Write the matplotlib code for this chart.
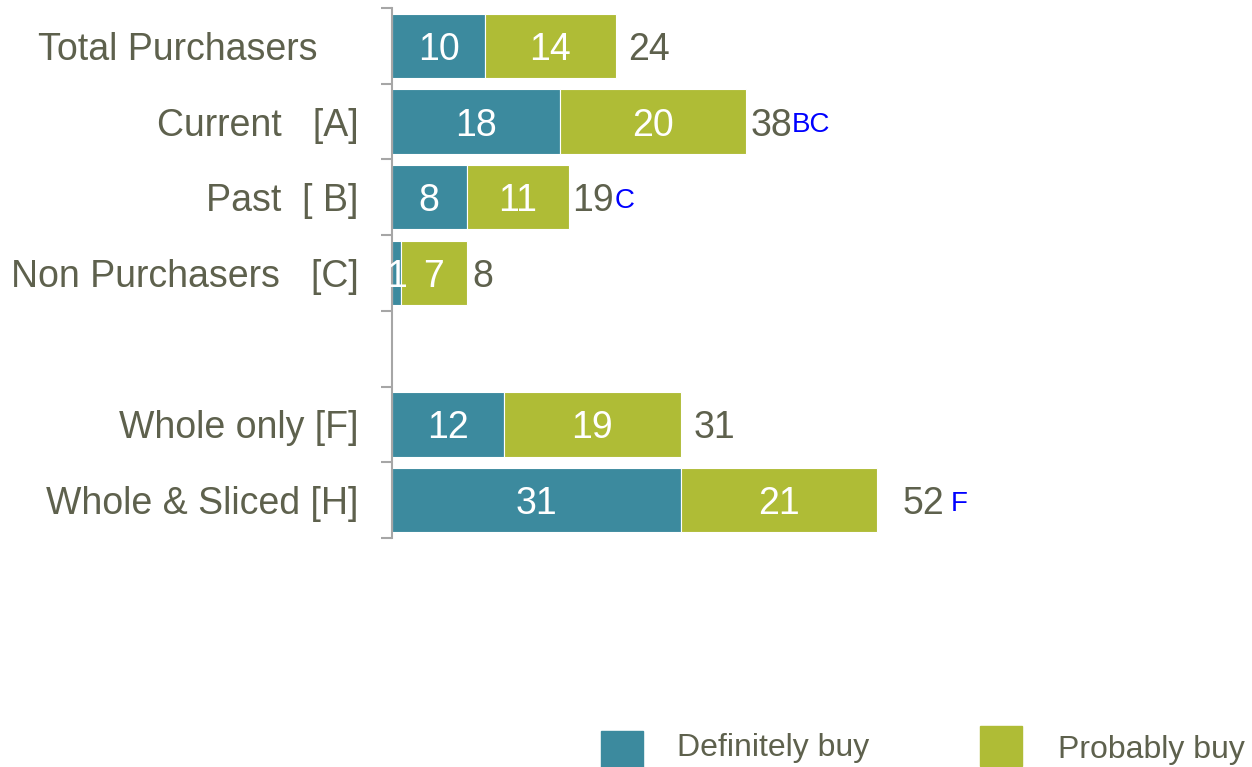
import matplotlib.pyplot as plt
from matplotlib.patches import Rectangle

plt.rcParams['font.family'] = ['Liberation Sans', 'DejaVu Sans']

# data
labels = ['Total Purchasers    ', 'Current   [A]', 'Past  [ B]', 'Non Purchasers   [C]',
          'Whole only [F]', 'Whole & Sliced [H]']
definitely = [10, 18, 8, 1, 12, 31]
probably = [14, 20, 11, 7, 19, 21]
totals = [24, 38, 19, 8, 31, 52]
sig = ['', 'BC', 'C', '', '', 'F']

# row positions (empty slot between the two groups)
pos = [0, 1, 2, 3, 5, 6]
total_pad = [9, 3, 2, 4, 9, 19]   # points, as placed in the original
sig_pad = [0, 0, 1, 0, 0, 4]

teal = '#3C8A9E'
green = '#AFBC36'
txt = '#5E614D'

fig = plt.figure(figsize=(12.52, 7.67), dpi=100)
ax = fig.add_axes([392 / 1252, 1 - 538 / 767, 860 / 1252, 530 / 767])

b1 = ax.barh(pos, definitely, height=0.85, color=teal, edgecolor='white', linewidth=0.8)
b2 = ax.barh(pos, probably, left=definitely, height=0.85, color=green, edgecolor='white', linewidth=0.8)
for lb in ax.bar_label(b1, label_type='center', color='white', fontsize=27):
    lb.set_va('center_baseline')
for lb in ax.bar_label(b2, label_type='center', color='white', fontsize=27):
    lb.set_va('center_baseline')

for i, p in enumerate(pos):
    t = ax.annotate(str(totals[i]), xy=(totals[i], p), xytext=(total_pad[i], 0),
                    textcoords='offset points', va='center_baseline', ha='left',
                    fontsize=27, color=txt)
    if sig[i]:
        ax.annotate(sig[i], xy=(1, 0), xycoords=t, xytext=(sig_pad[i], 4),
                    textcoords='offset points', va='bottom', ha='left',
                    fontsize=20, color='#0000FF')

ax.set_xlim(0, 860 / 9.32)
ax.set_ylim(6.5, -0.5)

ax.set_yticks(pos)
ax.set_yticklabels(labels, fontsize=27, color=txt)
ax.tick_params(axis='y', which='major', length=0, pad=24)
ax.set_yticks([-0.5, 0.5, 1.5, 2.5, 3.5, 4.5, 5.5, 6.5], minor=True)
ax.tick_params(axis='y', which='minor', length=8, width=1.5, color='#A6A6A6')
ax.set_xticks([])

for s in ['top', 'right', 'bottom']:
    ax.spines[s].set_visible(False)
ax.spines['left'].set_color('#A6A6A6')
ax.spines['left'].set_linewidth(1.5)

# legend drawn at the bottom
fig.add_artist(Rectangle((601 / 1252, 0), 42 / 1252, 36 / 767, transform=fig.transFigure,
                         color=teal))
fig.text(677 / 1252, 1 - 748 / 767, 'Definitely buy', fontsize=23, color=txt, va='center')
fig.add_artist(Rectangle((980 / 1252, 1 - 766 / 767), 42 / 1252, 40 / 767, transform=fig.transFigure,
                         color=green))
fig.text(1058 / 1252, 1 - 750 / 767, 'Probably buy', fontsize=23, color=txt, va='center')

plt.savefig('out.png', dpi=100)
